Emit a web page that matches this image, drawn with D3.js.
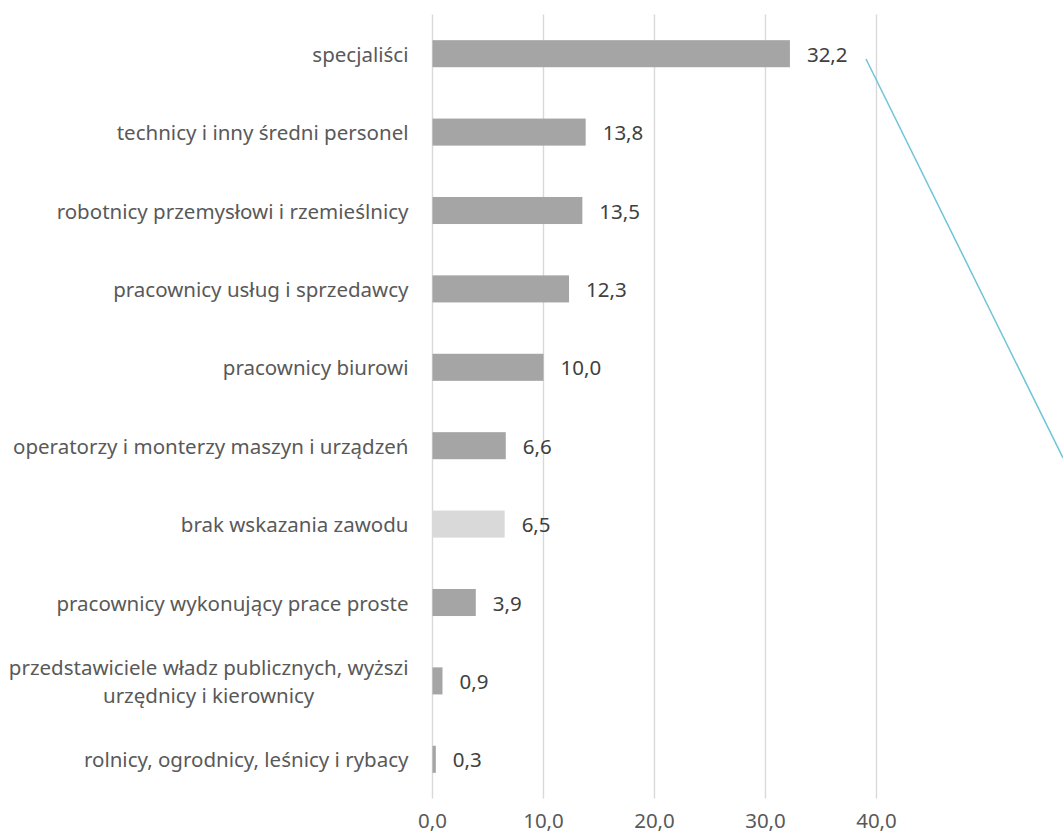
<!DOCTYPE html>
<html>
<head>
<meta charset="utf-8">
<script src="https://cdn.jsdelivr.net/npm/d3@7"></script>
<style>
  html, body { margin: 0; padding: 0; background: #fff; }
  svg { display: block; }
  text { font-family: "Noto Sans", "Open Sans", sans-serif; }
</style>
</head>
<body>
<svg id="chart" width="1063" height="839"></svg>
<script>
const categories = [
  "specjaliści",
  "technicy i inny średni personel",
  "robotnicy przemysłowi i rzemieślnicy",
  "pracownicy usług i sprzedawcy",
  "pracownicy biurowi",
  "operatorzy i monterzy maszyn i urządzeń",
  "brak wskazania zawodu",
  "pracownicy wykonujący prace proste",
  "przedstawiciele władz publicznych, wyższi|urzędnicy i kierownicy",
  "rolnicy, ogrodnicy, leśnicy i rybacy"
];
const values = [32.2, 13.8, 13.5, 12.3, 10.0, 6.6, 6.5, 3.9, 0.9, 0.3];
const highlighted = ["brak wskazania zawodu"];
const tickValues = [0, 10, 20, 30, 40];

const svg = d3.select("#chart");
const locale = d3.formatLocale({decimal: ",", thousands: " ", grouping: [3], currency: ["", " zł"]});
const fmt = locale.format(".1f");
const FS = 20.5;

const x = d3.scaleLinear().domain([0, 40]).range([432.5, 876.5]);
const y = d3.scaleBand().domain(categories).range([14.5, 798.5]).paddingInner(0.655).paddingOuter(0.3275);

// gridlines
svg.append("g").selectAll("line").data(tickValues).join("line")
  .attr("x1", d => x(d)).attr("x2", d => x(d))
  .attr("y1", y.range()[0]).attr("y2", y.range()[1])
  .attr("stroke", "#d9d9d9").attr("stroke-width", 1.4);

// x tick labels
svg.append("g").selectAll("text").data(tickValues).join("text")
  .attr("x", d => x(d)).attr("y", 820)
  .attr("text-anchor", "middle").attr("dominant-baseline", "central")
  .attr("font-size", FS).attr("fill", "#595959")
  .text(d => fmt(d));

const data = categories.map((c, i) => ({c, v: values[i]}));

// bars
svg.append("g").selectAll("rect").data(data).join("rect")
  .attr("x", x(0)).attr("y", d => y(d.c))
  .attr("width", d => x(d.v) - x(0)).attr("height", y.bandwidth())
  .attr("fill", d => highlighted.includes(d.c) ? "#d9d9d9" : "#a5a5a5");

// value labels
svg.append("g").selectAll("text").data(data).join("text")
  .attr("x", d => x(d.v) + 17).attr("y", d => y(d.c) + y.bandwidth() / 2)
  .attr("dominant-baseline", "central")
  .attr("font-size", FS).attr("fill", "#404040")
  .text(d => fmt(d.v));

// category labels
const labelRight = x(0) - 24;
const cat = svg.append("g").selectAll("text").data(data).join("text")
  .attr("font-size", FS).attr("fill", "#595959")
  .attr("dominant-baseline", "central");
cat.each(function(d) {
  const lines = d.c.split("|");
  const t = d3.select(this);
  const cy = y(d.c) + y.bandwidth() / 2;
  if (lines.length === 1) {
    t.attr("x", labelRight).attr("y", cy).attr("text-anchor", "end").text(lines[0]);
  } else {
    t.attr("text-anchor", "middle");
    const lh = 28;
    lines.forEach((ln, k) => {
      t.append("tspan").attr("y", cy + (k - (lines.length - 1) / 2) * lh).text(ln);
    });
    const widths = [];
    t.selectAll("tspan").each(function() { widths.push(this.getComputedTextLength()); });
    const w = d3.max(widths);
    t.selectAll("tspan").attr("x", labelRight - w / 2);
  }
});

// stray leader line (decoration)
svg.append("line")
  .attr("x1", 866).attr("y1", 59).attr("x2", 1063).attr("y2", 458)
  .attr("stroke", "#6ec4d8").attr("stroke-width", 1.5);
</script>
</body>
</html>
